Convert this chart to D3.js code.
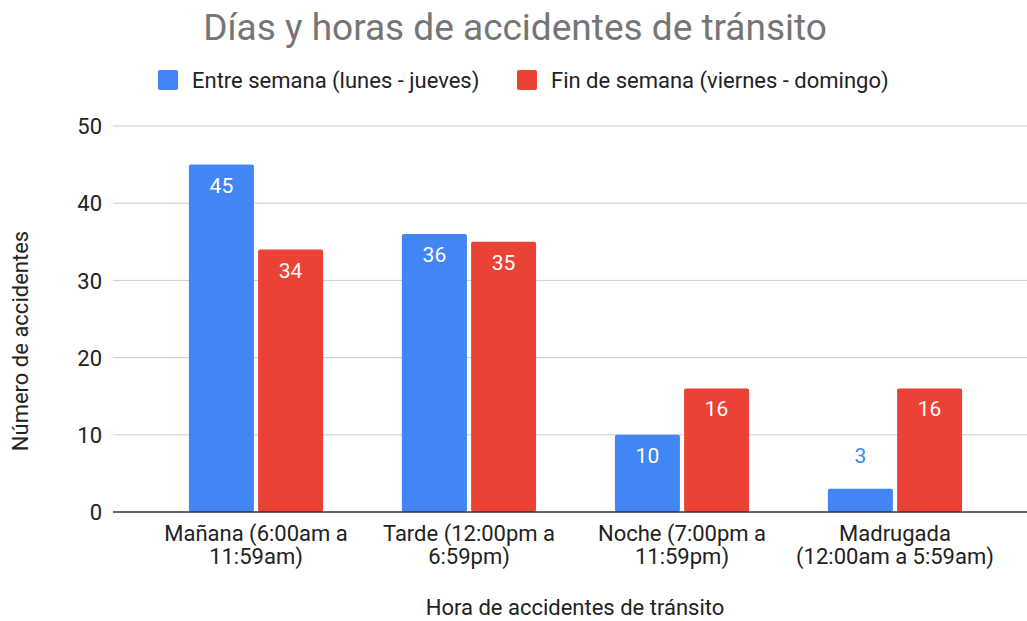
<!DOCTYPE html>
<html><head><meta charset="utf-8">
<script src="https://cdn.jsdelivr.net/npm/d3@7"></script>
<style>body{margin:0;background:#fff}svg{display:block;font-family:Roboto,Arial,sans-serif}</style>
</head><body>
<svg id="c" width="1027" height="621"></svg>
<script>
const categories = [["Mañana (6:00am a","11:59am)"],["Tarde (12:00pm a","6:59pm)"],["Noche (7:00pm a","11:59pm)"],["Madrugada","(12:00am a 5:59am)"]];
const seriesNames = ["Entre semana (lunes - jueves)","Fin de semana (viernes - domingo)"];
const weekday = [45,36,10,3];
const weekend = [34,35,16,16];
const yTicks = [0,10,20,30,40,50];
const colors = ["#4285f4","#ea4335"];

const FS = 22;
const svg = d3.select("#c");
const x = d3.scaleBand().domain(d3.range(categories.length)).range([149.5,1001.5]).paddingInner(0.37).paddingOuter(0.185);
const xi = d3.scaleBand().domain([0,1]).range([0,x.bandwidth()]).paddingInner(0.06);
const y = d3.scaleLinear().domain([0,50]).range([512,126]);

// gridlines
svg.append("g").selectAll("line").data(yTicks.filter(d=>d>0)).join("line")
  .attr("x1",113).attr("x2",1027).attr("y1",d=>y(d)).attr("y2",d=>y(d))
  .attr("stroke","#cccccc").attr("stroke-width",1);

// y axis
const ya = svg.append("g").attr("transform","translate(113,0)")
  .call(d3.axisLeft(y).tickValues(yTicks).tickSize(0).tickPadding(11));
ya.select(".domain").remove();
ya.selectAll("text").attr("font-size",FS).attr("fill","#222").attr("font-family","Roboto,Arial,sans-serif").attr("dy","0.35em");

const series = [weekday, weekend];
series.forEach((vals,s)=>{
  const g = svg.append("g");
  g.selectAll("rect").data(vals).join("rect")
    .attr("x",(d,i)=>x(i)+xi(s)).attr("width",xi.bandwidth())
    .attr("y",d=>y(d)).attr("height",d=>y(0)-y(d))
    .attr("rx",2).attr("fill",colors[s]);
  g.selectAll("text").data(vals).join("text")
    .attr("x",(d,i)=>x(i)+xi(s)+xi.bandwidth()/2)
    .attr("y",d=> (y(0)-y(d) > 40) ? y(d)+28 : y(d)-26)
    .attr("text-anchor","middle").attr("font-size",21)
    .attr("fill",d=> (y(0)-y(d) > 40) ? "#ffffff" : colors[s])
    .text(d=>d);
});

// baseline
svg.append("line").attr("x1",113).attr("x2",1027).attr("y1",y(0)).attr("y2",y(0)).attr("stroke","#333").attr("stroke-width",1.5);

// x labels
const xl = svg.append("g");
categories.forEach((lines,i)=>{
  const t = xl.append("text").attr("text-anchor","middle").attr("font-size",FS).attr("fill","#222")
    .attr("x",x(i)+x.bandwidth()/2).attr("y",541);
  lines.forEach((l,k)=>t.append("tspan").attr("x",x(i)+x.bandwidth()/2).attr("dy",k?23:0).text(l));
});

// titles
svg.append("text").attr("x",515).attr("y",40).attr("text-anchor","middle").attr("font-size",37).attr("fill","#757575").text("Días y horas de accidentes de tránsito");
svg.append("text").attr("x",575).attr("y",615).attr("text-anchor","middle").attr("font-size",FS).attr("fill","#222").text("Hora de accidentes de tránsito");
svg.append("text").attr("transform","translate(28,341) rotate(-90)").attr("text-anchor","middle").attr("font-size",FS).attr("fill","#222").text("Número de accidentes");

// legend
const legX = [158,517];
seriesNames.forEach((n,s)=>{
  svg.append("rect").attr("x",legX[s]).attr("y",70).attr("width",20).attr("height",20).attr("rx",2).attr("fill",colors[s]);
  svg.append("text").attr("x",legX[s]+34).attr("y",88).attr("font-size",FS).attr("fill","#222").text(n);
});
</script>
</body></html>
